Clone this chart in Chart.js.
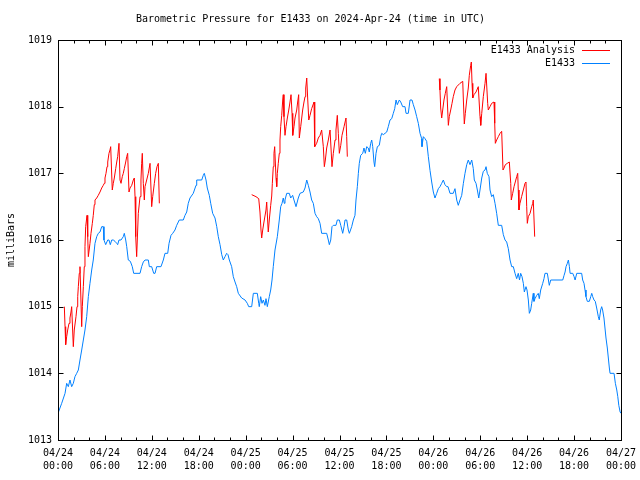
<!DOCTYPE html>
<html>
<head>
<meta charset="utf-8">
<title>Barometric Pressure for E1433</title>
<script src="https://cdn.jsdelivr.net/npm/chart.js@4.4.1/dist/chart.umd.min.js"></script>
<style>
body { margin: 0; background: #fff; }
</style>
</head>
<body>
<canvas id="mycanvas" width="640" height="480"></canvas>
<script>
var titleText = 'Barometric Pressure for E1433 on 2024-Apr-24 (time in UTC)';
var yTitle = 'milliBars';

// x tick labels, one per 6 hours from 04/24 00:00
var tickDates = ['04/24','04/24','04/24','04/24','04/25','04/25','04/25','04/25','04/26','04/26','04/26','04/26','04/27'];
var tickTimes = ['00:00','06:00','12:00','18:00','00:00','06:00','12:00','18:00','00:00','06:00','12:00','18:00','00:00'];

// station E1433: hours since 04/24 00:00 UTC, pressure in mb
var stationHours = [
  0.0,0.47,0.9,1.11,1.32,1.53,1.75,1.96,2.17,2.39,
  2.6,2.81,3.03,3.24,3.45,3.67,3.88,4.09,4.31,4.51,
  4.73,4.95,5.15,5.37,5.59,5.79,5.88,6.1,6.36,6.52,
  6.69,6.87,7.07,7.29,7.51,7.63,7.8,8.06,8.35,8.48,
  8.66,8.79,8.99,9.25,9.5,9.68,10.49,10.7,10.91,11.13,
  11.55,11.68,11.98,12.24,12.41,12.62,13.17,13.47,13.68,14.03,
  14.2,14.45,14.67,14.96,15.18,15.51,16.02,16.24,16.46,16.66,
  16.88,17.3,17.65,17.74,18.38,18.58,18.71,18.93,19.09,19.35,
  19.53,19.78,20.08,20.3,20.5,20.72,20.94,21.14,21.36,21.57,
  21.74,21.91,22.21,22.42,22.64,22.85,23.06,23.49,23.92,24.21,
  24.39,24.77,24.98,25.49,25.67,25.74,25.92,26.09,26.26,26.47,
  26.6,26.77,27.02,27.2,27.37,27.53,27.75,28.05,28.3,28.48,
  28.65,28.81,28.94,29.03,29.25,29.58,29.76,30.01,30.18,30.44,
  30.73,30.95,31.37,31.59,31.81,32.01,32.23,32.44,32.65,32.87,
  33.08,33.29,33.51,33.72,34.15,34.36,34.57,34.7,34.88,35.04,
  35.21,35.55,35.72,35.98,36.16,36.41,36.58,36.71,36.92,37.13,
  37.26,37.56,37.77,37.98,38.11,38.28,38.41,38.53,38.71,38.97,
  39.13,39.3,39.48,39.68,39.81,39.99,40.12,40.25,40.41,40.5,
  40.67,40.84,41.09,41.27,41.4,41.6,41.82,42.04,42.24,42.46,
  42.68,42.88,43.06,43.23,43.39,43.65,43.83,44.08,44.38,44.51,
  44.8,45.02,45.27,45.44,45.66,45.87,46.08,46.3,46.51,46.55,
  46.72,46.94,47.15,47.36,47.58,47.79,48.0,48.21,48.43,48.64,
  48.85,49.07,49.28,49.49,49.71,49.88,50.13,50.55,50.77,50.99,
  51.19,51.41,51.63,51.84,52.05,52.27,52.47,52.69,52.91,53.11,
  53.24,53.46,53.63,53.81,53.97,54.19,54.39,54.61,54.74,54.9,
  55.12,55.25,55.46,55.67,55.89,56.1,56.31,56.74,56.95,57.17,
  57.38,57.59,57.81,58.02,58.23,58.45,58.66,58.86,59.02,59.17,
  59.34,59.51,59.64,59.85,59.98,60.15,60.28,60.45,60.58,60.78,
  60.87,61.0,61.22,61.42,61.55,61.73,61.99,62.15,62.28,62.58,
  62.76,62.83,63.01,64.55,64.72,64.85,64.97,65.14,65.27,65.4,
  65.49,65.83,66.0,66.13,66.34,66.97,67.1,67.27,67.4,67.52,
  67.69,67.95,68.13,68.26,68.38,68.55,68.71,68.89,69.1,69.22,
  69.4,69.53,69.65,69.82,69.95,70.08,70.25,70.38,70.51,70.6,
  71.11,71.28,71.46,71.59,71.72,71.89,72.0
];
var stationMb = [
  1013.40,1013.55,1013.70,1013.85,1013.80,1013.90,1013.80,1013.85,1013.95,1014.00,
  1014.05,1014.20,1014.35,1014.50,1014.65,1014.85,1015.15,1015.35,1015.55,1015.70,
  1015.95,1016.05,1016.10,1016.12,1016.20,1016.20,1016.00,1015.93,1016.00,1016.00,
  1015.93,1016.00,1016.00,1015.98,1015.95,1015.93,1016.00,1016.00,1016.05,1016.10,
  1016.00,1015.90,1015.70,1015.68,1015.60,1015.50,1015.50,1015.60,1015.67,1015.70,
  1015.70,1015.60,1015.60,1015.50,1015.50,1015.60,1015.60,1015.70,1015.80,1015.80,
  1015.95,1016.07,1016.10,1016.15,1016.22,1016.30,1016.30,1016.37,1016.42,1016.55,
  1016.63,1016.70,1016.82,1016.90,1016.90,1016.97,1017.00,1016.90,1016.78,1016.67,
  1016.55,1016.40,1016.33,1016.20,1016.05,1015.93,1015.78,1015.70,1015.75,1015.80,
  1015.78,1015.70,1015.60,1015.45,1015.37,1015.30,1015.20,1015.13,1015.10,1015.05,
  1015.00,1015.00,1015.20,1015.20,1015.05,1015.00,1015.15,1015.05,1015.10,1015.02,
  1015.12,1015.00,1015.15,1015.25,1015.40,1015.60,1015.85,1016.05,1016.30,1016.50,
  1016.55,1016.63,1016.55,1016.60,1016.70,1016.70,1016.63,1016.67,1016.60,1016.50,
  1016.63,1016.70,1016.72,1016.78,1016.90,1016.82,1016.72,1016.60,1016.55,1016.40,
  1016.35,1016.32,1016.25,1016.10,1016.10,1016.10,1016.00,1015.93,1016.00,1016.20,
  1016.22,1016.22,1016.30,1016.30,1016.22,1016.10,1016.20,1016.30,1016.30,1016.15,
  1016.10,1016.20,1016.30,1016.37,1016.60,1016.80,1017.00,1017.15,1017.27,1017.30,
  1017.38,1017.30,1017.40,1017.38,1017.32,1017.45,1017.50,1017.40,1017.17,1017.10,
  1017.30,1017.40,1017.42,1017.55,1017.60,1017.58,1017.60,1017.62,1017.70,1017.80,
  1017.82,1017.90,1017.97,1018.10,1018.03,1018.10,1018.07,1018.00,1018.00,1017.90,
  1017.90,1018.10,1018.10,1018.03,1017.95,1017.85,1017.75,1017.60,1017.52,1017.40,
  1017.55,1017.52,1017.48,1017.25,1017.04,1016.87,1016.72,1016.63,1016.70,1016.77,
  1016.80,1016.85,1016.90,1016.83,1016.80,1016.80,1016.70,1016.70,1016.77,1016.60,
  1016.52,1016.60,1016.67,1016.85,1017.00,1017.13,1017.20,1017.13,1017.20,1017.07,
  1016.90,1016.85,1016.75,1016.63,1016.75,1016.93,1017.03,1017.05,1017.10,1017.00,
  1016.95,1016.75,1016.65,1016.68,1016.55,1016.40,1016.22,1016.22,1016.08,1016.00,
  1015.97,1015.87,1015.70,1015.60,1015.60,1015.50,1015.42,1015.50,1015.40,1015.50,
  1015.45,1015.35,1015.22,1015.30,1015.25,1015.10,1014.90,1014.95,1015.05,1015.20,
  1015.08,1015.12,1015.17,1015.20,1015.12,1015.25,1015.35,1015.42,1015.50,1015.50,
  1015.37,1015.32,1015.40,1015.40,1015.47,1015.52,1015.60,1015.65,1015.70,1015.60,
  1015.50,1015.50,1015.45,1015.40,1015.50,1015.50,1015.40,1015.35,1015.25,1015.15,
  1015.08,1015.08,1015.15,1015.20,1015.15,1015.10,1015.08,1014.98,1014.85,1014.80,
  1014.95,1015.00,1014.95,1014.83,1014.68,1014.53,1014.38,1014.23,1014.08,1014.00,
  1014.00,1013.85,1013.75,1013.65,1013.52,1013.42,1013.40
];

// analysis for E1433, null marks a gap
var analysisHours = [
  0.81,0.9,0.98,1.11,1.24,1.41,1.53,1.66,1.75,1.96,
  2.08,2.3,2.43,2.52,2.6,2.72,2.81,3.03,3.11,3.24,
  3.36,3.45,3.54,3.71,3.8,3.88,4.09,4.22,4.39,4.51,
  4.64,4.73,4.95,5.15,5.37,5.59,5.79,5.92,6.01,6.14,
  6.27,6.36,6.52,6.65,6.74,6.94,7.07,7.2,7.38,7.51,
  7.63,7.8,7.93,8.06,8.22,8.35,8.48,8.66,8.79,8.91,
  9.08,9.21,9.43,9.63,9.76,9.85,9.94,10.06,10.27,10.49,
  10.61,10.7,10.78,10.91,11.04,11.13,11.34,11.55,11.77,11.98,
  12.11,12.32,12.49,12.66,12.83,12.96,
  18.0,
  24.77,25.32,25.67,25.83,25.96,26.05,26.18,26.34,26.6,26.69,
  26.89,27.02,27.2,27.33,27.41,27.53,27.62,27.71,27.88,27.97,
  28.05,28.17,28.3,28.39,28.48,28.61,28.74,28.81,28.9,29.03,
  29.16,29.33,29.51,29.67,29.8,29.93,30.02,30.18,30.31,30.53,
  30.65,30.78,30.86,31.04,31.29,31.46,31.59,31.68,31.81,31.94,
  32.07,32.23,32.44,32.74,32.83,33.08,33.29,33.51,33.72,33.93,
  34.06,34.19,34.36,34.57,34.79,35.04,35.21,35.43,35.55,35.72,
  35.85,35.98,36.16,36.32,36.58,36.83,36.92,37.0,
  42.0,
  48.76,48.85,48.94,49.07,49.2,49.36,49.53,49.71,49.92,50.04,
  50.22,50.39,50.55,50.77,50.99,51.41,51.76,51.84,51.96,52.09,
  52.27,52.47,52.6,52.78,52.86,52.95,53.04,53.2,53.46,53.75,
  53.97,54.06,54.19,54.39,54.61,54.74,54.95,55.03,55.25,55.46,
  55.76,55.85,55.93,56.1,56.31,56.53,56.74,56.91,57.04,57.21,
  57.46,57.72,57.9,57.97,58.15,58.32,58.48,58.66,58.79,58.86,
  58.95,59.08,59.29,59.51,59.72,59.85,59.94,60.02,60.15,60.37,
  60.58,60.71,60.78,60.96
];
var analysisMb = [
  1015.00,1014.70,1014.43,1014.55,1014.65,1014.75,1014.83,1014.92,1015.00,1014.40,
  1014.65,1014.85,1015.00,1015.15,1015.30,1015.50,1015.60,1014.70,1015.00,1015.30,
  1015.60,1015.90,1016.20,1016.37,1016.05,1015.75,1015.95,1016.10,1016.25,1016.37,
  1016.53,1016.60,1016.63,1016.67,1016.72,1016.78,1016.82,1016.85,1016.93,1017.00,
  1017.10,1017.17,1017.30,1017.35,1017.40,1016.75,1016.85,1016.93,1017.07,1017.17,
  1017.25,1017.45,1016.90,1016.85,1016.95,1017.00,1017.07,1017.17,1017.25,1017.30,
  1016.72,1016.78,1016.82,1016.90,1016.93,1016.65,1016.05,1015.75,1016.40,1016.65,
  1016.90,1017.15,1017.30,1016.85,1016.60,1016.80,1016.90,1017.00,1017.15,1016.50,
  1016.65,1016.85,1017.00,1017.10,1017.15,1016.55,
  null,
  1016.68,1016.65,1016.62,1016.42,1016.15,1016.03,1016.15,1016.27,1016.45,1016.57,
  1016.12,1016.30,1016.52,1016.66,1016.85,1017.10,1017.30,1017.40,1016.93,1016.80,
  1017.00,1017.15,1017.30,1017.50,1017.70,1017.87,1018.10,1018.18,1017.85,1017.57,
  1017.70,1017.83,1017.95,1018.07,1018.18,1017.90,1017.57,1017.70,1017.83,1017.95,
  1018.07,1018.18,1017.53,1017.70,1017.95,1018.07,1018.15,1018.28,1018.43,1018.10,
  1017.80,1017.87,1017.97,1018.07,1017.40,1017.45,1017.53,1017.57,1017.65,1017.40,
  1017.10,1017.20,1017.38,1017.50,1017.65,1017.10,1017.30,1017.50,1017.65,1017.87,
  1017.60,1017.30,1017.42,1017.57,1017.70,1017.83,1017.55,1017.25,
  null,
  1018.42,1018.25,1017.98,1017.83,1017.95,1018.10,1018.20,1018.30,1017.72,1017.85,
  1017.95,1018.05,1018.15,1018.25,1018.30,1018.35,1018.38,1018.10,1017.74,1017.90,
  1018.10,1018.28,1018.47,1018.62,1018.67,1018.35,1018.13,1018.18,1018.22,1018.30,
  1017.85,1017.72,1017.90,1018.15,1018.35,1018.50,1018.05,1017.95,1018.00,1018.05,
  1018.07,1017.75,1017.45,1017.50,1017.55,1017.60,1017.63,1017.05,1017.08,1017.13,
  1017.15,1017.17,1016.85,1016.60,1016.70,1016.80,1016.87,1016.95,1017.00,1016.75,
  1016.45,1016.55,1016.65,1016.75,1016.85,1016.87,1016.50,1016.25,1016.35,1016.40,
  1016.50,1016.55,1016.60,1016.05
];

function toPoints(xs, ys) {
  var pts = [];
  for (var i = 0; i < xs.length; i++) {
    pts.push({ x: xs[i], y: ys[i] });
  }
  return pts;
}

// gnuplot style frame: border, inward ticks on all sides, and the key
var gnuplotFrame = {
  id: 'gnuplotFrame',
  afterDatasetsDraw: function(chart) {
    var ctx = chart.ctx;
    var a = chart.chartArea;
    var xs = chart.scales.x;
    var ys = chart.scales.y;
    var left = Math.round(a.left) + 0.5, right = Math.round(a.right) + 0.5;
    var top = Math.round(a.top) + 0.5, bottom = Math.round(a.bottom) + 0.5;
    ctx.save();
    ctx.strokeStyle = '#000';
    ctx.lineWidth = 1;
    ctx.beginPath();
    ys.ticks.forEach(function(t) {
      var y = Math.round(ys.getPixelForValue(t.value)) + 0.5;
      ctx.moveTo(left, y); ctx.lineTo(left + 5, y);
      ctx.moveTo(right, y); ctx.lineTo(right - 5, y);
    });
    for (var h = xs.min; h <= xs.max; h += 2) {
      var x = Math.round(xs.getPixelForValue(h)) + 0.5;
      var len = (h % 6 === 0) ? 5 : 3;
      ctx.moveTo(x, bottom); ctx.lineTo(x, bottom - len);
      ctx.moveTo(x, top); ctx.lineTo(x, top + len);
    }
    ctx.stroke();
    ctx.strokeRect(left, top, right - left, bottom - top);

    ctx.font = '10px "DejaVu Sans Mono", monospace';
    ctx.textAlign = 'right';
    ctx.textBaseline = 'middle';
    chart.data.datasets.forEach(function(ds, i) {
      var y = 50 + i * 13;
      ctx.fillStyle = '#000';
      ctx.fillText(ds.label, 575, y);
      ctx.strokeStyle = ds.borderColor;
      ctx.beginPath();
      ctx.moveTo(582, Math.round(y) + 0.5);
      ctx.lineTo(610, Math.round(y) + 0.5);
      ctx.stroke();
    });
    ctx.restore();
  }
};

Chart.defaults.font.family = '"DejaVu Sans Mono", monospace';
Chart.defaults.font.size = 10;
Chart.defaults.color = '#000';

var ctx = document.getElementById('mycanvas');
var chart = new Chart(ctx, {
  type: 'line',
  data: {
    datasets: [
      {
        label: 'E1433 Analysis',
        data: toPoints(analysisHours, analysisMb),
        borderColor: '#ff0000',
        borderWidth: 1,
        pointRadius: 0,
        tension: 0,
        spanGaps: false
      },
      {
        label: 'E1433',
        data: toPoints(stationHours, stationMb),
        borderColor: '#0080ff',
        borderWidth: 1,
        pointRadius: 0,
        tension: 0
      }
    ]
  },
  options: {
    responsive: false,
    animation: false,
    devicePixelRatio: 1,
    layout: { padding: { left: 0, right: 19, top: 0, bottom: 0 } },
    plugins: {
      legend: { display: false },
      tooltip: { enabled: false },
      title: {
        display: true,
        text: titleText,
        font: { size: 10, weight: 'normal' },
        color: '#000',
        padding: { top: 13, bottom: 15 }
      }
    },
    scales: {
      x: {
        type: 'linear',
        min: 0,
        max: 72,
        grid: { display: false, drawTicks: false },
        border: { display: false },
        ticks: {
          stepSize: 6,
          padding: 7,
          maxRotation: 0,
          autoSkip: false,
          font: { size: 10, lineHeight: 1.3 },
          callback: function(value) {
            var i = Math.round(value / 6);
            return [tickDates[i], tickTimes[i]];
          }
        },
        afterFit: function(scale) {
          scale.height = 40;
          scale.paddingRight = 0;
          scale.paddingLeft = 0;
        }
      },
      y: {
        min: 1013,
        max: 1019,
        grid: { display: false, drawTicks: false },
        border: { display: false },
        ticks: {
          stepSize: 1,
          padding: 6,
          callback: function(value) { return String(value); }
        },
        title: { display: true, text: yTitle, padding: { top: 5, bottom: 0 } },
        afterFit: function(scale) { scale.width = 58; }
      }
    }
  },
  plugins: [gnuplotFrame]
});
</script>
</body>
</html>
